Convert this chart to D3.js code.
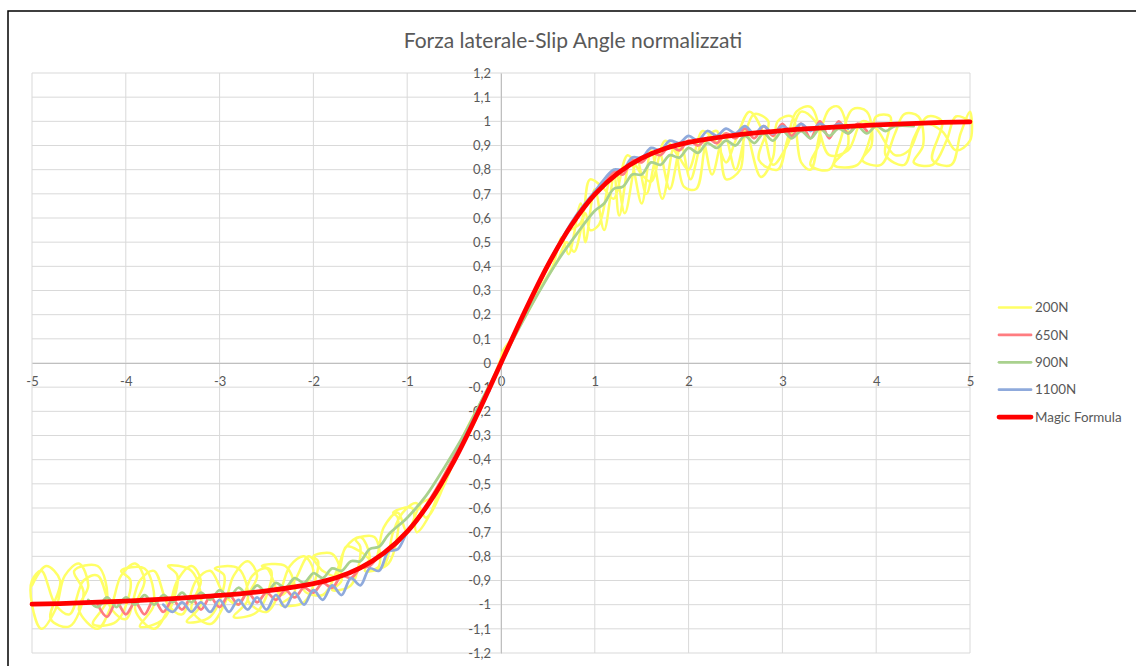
<!DOCTYPE html>
<html>
<head>
<meta charset="utf-8">
<script src="https://cdn.jsdelivr.net/npm/d3@7"></script>
<style>
  body { margin: 0; background: #fff; }
  text { font-family: Lato, "Noto Sans", sans-serif; fill: #595959; }
</style>
</head>
<body>
<div id="chart"></div>
<script>
var chartTitle = "Forza laterale-Slip Angle normalizzati";
var xTicks = [-5, -4, -3, -2, -1, 0, 1, 2, 3, 4, 5];
var yTicks = [-1.2, -1.1, -1, -0.9, -0.8, -0.7, -0.6, -0.5, -0.4, -0.3, -0.2, -0.1, 0,
              0.1, 0.2, 0.3, 0.4, 0.5, 0.6, 0.7, 0.8, 0.9, 1, 1.1, 1.2];
var seriesNames = ["200N", "650N", "900N", "1100N", "Magic Formula"];

// values, [slip angle, normalised force]
var s200 = [[-5.0,-0.92],[-4.85,-0.84],[-4.7,-0.9],[-4.8,-1.06],[-4.6,-1.09],[-4.45,-0.95],[-4.55,-0.86],[-4.3,-0.84],
  [-4.2,-0.98],[-4.35,-1.08],[-4.1,-1.07],[-3.95,-0.9],[-4.05,-0.86],[-3.8,-0.85],[-3.7,-1.0],[-3.85,-1.09],[-3.6,-1.06],
  [-3.45,-0.88],[-3.55,-0.84],[-3.3,-0.86],[-3.2,-1.0],[-3.35,-1.07],[-3.1,-1.05],[-2.95,-0.88],[-3.05,-0.85],[-2.8,-0.85],
  [-2.7,-0.98],[-2.85,-1.05],[-2.6,-1.03],[-2.45,-0.86],[-2.55,-0.84],[-2.3,-0.84],[-2.2,-0.95],[-2.35,-1.0],[-2.1,-0.99],
  [-1.95,-0.82],[-2.0,-0.8],[-1.8,-0.79],[-1.7,-0.9],[-1.8,-0.94],[-1.6,-0.92],[-1.5,-0.76],[-1.55,-0.73],[-1.35,-0.72],
  [-1.3,-0.84],[-1.4,-0.86],[-1.2,-0.83],[-1.1,-0.64],[-1.15,-0.62],[-0.95,-0.6],[-0.9,-0.7],[-0.75,-0.62],[-0.6,-0.46],
  [-0.45,-0.36],[-0.3,-0.24],[-0.15,-0.12],[0,0.02],[0.02,0.05],[0.15,0.12],[0.3,0.22],[0.45,0.33],[0.6,0.42],[0.7,0.5],
  [0.78,0.46],[0.9,0.62],[0.95,0.55],[1.04,0.57],[1.15,0.75],[1.2,0.8],[1.26,0.61],[1.38,0.84],[1.5,0.66],[1.6,0.88],
  [1.72,0.68],[1.85,0.9],[1.95,0.73],[2.08,0.72],[2.2,0.93],[2.3,0.96],[2.4,0.76],[2.55,0.8],[2.6,0.98],[2.77,0.77],
  [2.9,0.85],[2.95,1.0],[3.1,1.02],[3.2,0.83],[3.3,0.8],[3.4,0.95],[3.5,1.05],[3.6,1.06],[3.7,0.9],[3.55,0.82],[3.8,0.82],
  [3.95,0.95],[4.0,1.02],[4.15,1.02],[4.1,0.86],[4.3,0.82],[4.4,0.93],[4.55,1.02],[4.7,1.0],[4.6,0.84],[4.8,0.82],
  [4.9,0.95],[5.0,1.04],
  [5.0,0.92],[4.85,0.88],[4.7,0.96],[4.5,0.99],[4.35,0.88],[4.2,0.86],[4.0,0.97],[3.85,1.0],[3.7,0.88],[3.5,0.86],
  [3.35,1.0],[3.2,1.04],[3.05,0.9],[2.9,0.82],[2.8,0.95],[2.65,1.04],[2.5,0.92],[2.4,0.83],[2.3,0.91],[2.15,0.96],
  [2.0,0.8],[1.9,0.85],[1.75,0.92],[1.6,0.75],[1.5,0.78],[1.35,0.86],[1.2,0.68],[1.1,0.72],[0.95,0.76],[0.85,0.58],
  [0.7,0.54],[0.5,0.4],[0.3,0.24],[0,0.0],[-0.3,-0.26],[-0.5,-0.4],[-0.7,-0.55],[-0.85,-0.58],[-1.0,-0.7],[-1.1,-0.62],
  [-1.25,-0.68],[-1.35,-0.82],[-1.5,-0.78],[-1.65,-0.76],[-1.75,-0.88],[-1.9,-0.86],[-2.05,-0.8],[-2.2,-0.9],[-2.35,-0.96],
  [-2.5,-0.85],[-2.65,-0.88],[-2.8,-1.0],[-2.95,-0.96],[-3.1,-0.86],[-3.25,-0.9],[-3.4,-1.04],[-3.55,-1.0],[-3.7,-0.86],
  [-3.85,-0.9],[-4.0,-1.06],[-4.15,-1.02],[-4.3,-0.88],[-4.45,-0.9],[-4.6,-1.04],[-4.75,-1.0],[-4.9,-0.86],[-5.0,-0.9],
  [-5.0,-1.0],[-4.9,-1.1],[-4.75,-1.02],[-4.65,-0.88],[-4.5,-0.83],[-4.4,-0.92],[-4.5,-1.02],[-4.3,-1.1],[-4.15,-1.0],
  [-4.05,-0.88],[-3.9,-0.83],[-3.8,-0.9],[-3.9,-1.02],[-3.7,-1.1],[-3.55,-1.02],[-3.45,-0.9],[-3.3,-0.84],[-3.2,-0.9],
  [-3.3,-1.02],[-3.1,-1.08],[-2.95,-1.0],[-2.85,-0.88],[-2.7,-0.82],[-2.6,-0.88],[-2.7,-0.98],[-2.5,-1.03],[-2.35,-0.94],
  [-2.25,-0.84],[-2.1,-0.8],[-2.0,-0.86],[-2.1,-0.94],[-1.9,-0.96],[-1.75,-0.86],[-1.65,-0.76],[-1.5,-0.72],[-1.4,-0.8],
  [-1.45,-0.86],[-1.25,-0.84],[-1.15,-0.7],[-1.05,-0.62],[-0.9,-0.58],[-0.8,-0.64],[-0.6,-0.5],[-0.4,-0.3],[-0.2,-0.15],
  [0,0],[0.2,0.16],[0.4,0.3],[0.55,0.4],[0.65,0.52],[0.72,0.45],[0.85,0.66],[0.9,0.5],[1.0,0.72],[1.1,0.55],[1.22,0.8],
  [1.32,0.62],[1.45,0.84],[1.55,0.7],[1.68,0.88],[1.8,0.72],[1.92,0.9],[2.02,0.76],[2.15,0.92],[2.25,0.78],[2.38,0.95],
  [2.5,0.8],[2.62,0.97],[2.7,1.03],[2.85,1.0],[2.75,0.84],[2.95,0.8],[3.05,0.92],[3.15,1.04],[3.3,1.06],[3.4,0.92],
  [3.3,0.82],[3.5,0.8],[3.6,0.9],[3.75,1.05],[3.9,1.04],[3.95,0.9],[3.85,0.84],[4.05,0.82],[4.2,0.95],[4.3,1.03],
  [4.45,1.02],[4.5,0.9],[4.4,0.83],[4.6,0.82],[4.75,0.92],[4.85,1.02],[5.0,1.0]];

var s650 = [[-4.3,-1.0],[-4.2,-1.05],[-4.1,-0.99],[-4.0,-1.04],[-3.9,-0.99],[-3.8,-1.04],[-3.7,-0.98],[-3.6,-1.03],
  [-3.5,-0.98],[-3.4,-1.02],[-3.3,-0.97],[-3.2,-1.02],[-3.1,-0.97],[-3.0,-1.01],[-2.9,-0.96],[-2.8,-1.0],[-2.7,-0.95],
  [-2.6,-0.99],[-2.5,-0.95],[-2.4,-0.98],[-2.3,-0.94],[-2.2,-0.97],[-2.1,-0.93],[-2.0,-0.95],[-1.9,-0.91],[-1.8,-0.93],
  [-1.7,-0.88],[-1.6,-0.89],[-1.5,-0.85],[-1.4,-0.84],[-1.3,-0.8],[-1.2,-0.78],[-1.0,-0.7],[-0.8,-0.59],[-0.6,-0.46],
  [-0.4,-0.31],[-0.2,-0.16],[0,0],[0.2,0.16],[0.4,0.32],[0.6,0.47],[0.8,0.6],[1.0,0.7],[1.1,0.74],[1.2,0.79],[1.3,0.78],
  [1.4,0.84],[1.5,0.83],[1.6,0.87],[1.7,0.86],[1.8,0.9],[1.9,0.88],[2.0,0.92],[2.1,0.9],[2.2,0.93],[2.3,0.91],[2.4,0.95],
  [2.5,0.93],[2.6,0.97],[2.7,0.93],[2.8,0.98],[2.9,0.94],[3.0,0.99],[3.1,0.94],[3.2,0.99],[3.3,0.93],[3.4,1.0],[3.5,0.93],
  [3.6,1.0],[3.7,0.95],[3.8,0.99],[3.9,0.96]];

var s900 = [[-4.4,-0.98],[-4.3,-1.01],[-4.2,-0.97],[-4.1,-1.01],[-4.0,-0.97],[-3.9,-1.0],[-3.8,-0.96],[-3.7,-1.0],
  [-3.6,-0.96],[-3.5,-0.99],[-3.4,-0.95],[-3.3,-0.99],[-3.2,-0.95],[-3.1,-0.98],[-3.0,-0.94],[-2.9,-0.97],[-2.8,-0.93],
  [-2.7,-0.96],[-2.6,-0.92],[-2.5,-0.95],[-2.4,-0.91],[-2.3,-0.93],[-2.2,-0.89],[-2.1,-0.91],[-2.0,-0.87],[-1.9,-0.89],
  [-1.8,-0.85],[-1.7,-0.86],[-1.6,-0.82],[-1.5,-0.82],[-1.4,-0.77],[-1.3,-0.76],[-1.2,-0.71],[-1.0,-0.64],[-0.8,-0.55],
  [-0.6,-0.43],[-0.4,-0.3],[-0.2,-0.15],[0,0],[0.2,0.15],[0.4,0.29],[0.6,0.42],[0.8,0.53],[1.0,0.63],[1.1,0.66],
  [1.2,0.72],[1.3,0.73],[1.4,0.78],[1.5,0.78],[1.6,0.83],[1.7,0.82],[1.8,0.86],[1.9,0.85],[2.0,0.89],[2.1,0.87],
  [2.2,0.91],[2.3,0.89],[2.4,0.92],[2.5,0.9],[2.6,0.94],[2.7,0.91],[2.8,0.95],[2.9,0.92],[3.0,0.96],[3.1,0.93],
  [3.2,0.96],[3.3,0.93],[3.4,0.97],[3.5,0.94],[3.6,0.97],[3.7,0.95],[3.8,0.98],[3.9,0.95],[4.0,0.98],[4.1,0.96],
  [4.2,0.98],[4.4,0.98]];

var s1100 = [[-3.6,-1.0],[-3.5,-1.03],[-3.4,-0.99],[-3.3,-1.03],[-3.2,-0.99],[-3.1,-1.03],[-3.0,-0.98],[-2.9,-1.03],
  [-2.8,-0.98],[-2.7,-1.02],[-2.6,-0.97],[-2.5,-1.02],[-2.4,-0.96],[-2.3,-1.01],[-2.2,-0.95],[-2.1,-1.0],[-2.0,-0.94],
  [-1.9,-0.98],[-1.8,-0.92],[-1.7,-0.96],[-1.6,-0.89],[-1.5,-0.92],[-1.4,-0.85],[-1.3,-0.86],[-1.2,-0.78],[-1.1,-0.77],
  [-1.0,-0.7],[-0.8,-0.6],[-0.6,-0.47],[-0.4,-0.32],[-0.2,-0.16],[0,0],[0.2,0.17],[0.4,0.33],[0.6,0.48],[0.8,0.61],
  [1.0,0.71],[1.1,0.76],[1.2,0.8],[1.3,0.8],[1.4,0.85],[1.5,0.85],[1.6,0.89],[1.7,0.88],[1.8,0.92],[1.9,0.91],[2.0,0.94],
  [2.1,0.92],[2.2,0.96],[2.3,0.94],[2.4,0.97],[2.5,0.95],[2.6,0.98],[2.7,0.95],[2.8,0.98],[2.9,0.95],[3.0,0.98],
  [3.1,0.96],[3.2,0.99],[3.3,0.96],[3.4,0.99],[3.5,0.97],[3.6,0.99],[3.7,0.97]];

var magic = [[-5,-0.998],[-4.5,-0.993],[-4,-0.985],[-3.5,-0.975],[-3,-0.962],[-2.5,-0.943],[-2,-0.913],[-1.75,-0.888],
  [-1.5,-0.848],[-1.25,-0.787],[-1,-0.698],[-0.75,-0.57],[-0.5,-0.405],[-0.25,-0.21],[0,0],[0.25,0.21],[0.5,0.405],
  [0.75,0.57],[1,0.698],[1.25,0.787],[1.5,0.848],[1.75,0.888],[2,0.913],[2.5,0.943],[3,0.962],[3.5,0.975],[4,0.985],
  [4.5,0.993],[5,0.998]];

var colors = ["#ffff66", "#ff7c80", "#a9d18e", "#8faadc", "#ff0000"];
var widths = [2.5, 2.75, 2.75, 2.75, 4.75];
var allSeries = [s200, s650, s900, s1100, magic];

var W = 1136, H = 666;
var svg = d3.select("#chart").append("svg")
  .attr("width", W).attr("height", H);

svg.append("rect")
  .attr("x", 8).attr("y", 11).attr("width", W).attr("height", H)
  .attr("fill", "#fff").attr("stroke", "#000").attr("stroke-width", 1.5);

var x = d3.scaleLinear().domain([-5, 5]).range([32, 970]);
var y = d3.scaleLinear().domain([-1.2, 1.2]).range([653, 73]);

// gridlines
svg.append("g").selectAll("line").data(yTicks).enter().append("line")
  .attr("x1", x(-5)).attr("x2", x(5))
  .attr("y1", d => y(d)).attr("y2", d => y(d))
  .attr("stroke", "#d9d9d9").attr("stroke-width", 1);
svg.append("g").selectAll("line").data(xTicks).enter().append("line")
  .attr("x1", d => x(d)).attr("x2", d => x(d))
  .attr("y1", y(1.2)).attr("y2", y(-1.2))
  .attr("stroke", "#d9d9d9").attr("stroke-width", 1);

var fmt = d => String(+d.toFixed(1)).replace(".", ",");

// x axis along y = 0
var xAxis = svg.append("g")
  .attr("transform", "translate(0," + y(0) + ")")
  .call(d3.axisBottom(x).tickValues(xTicks).tickSize(0).tickPadding(14).tickFormat(fmt));
xAxis.select(".domain").attr("stroke", "#bfbfbf");
xAxis.selectAll("text").style("font-size", "13px").attr("fill", "#595959")
  .style("font-family", "Lato, 'Noto Sans', sans-serif");

// y axis along x = 0
var yAxis = svg.append("g")
  .attr("transform", "translate(" + x(0) + ",0)")
  .call(d3.axisLeft(y).tickValues(yTicks).tickSize(0).tickPadding(10).tickFormat(fmt));
yAxis.select(".domain").attr("stroke", "#bfbfbf");
yAxis.selectAll("text").style("font-size", "13px").attr("fill", "#595959")
  .style("font-family", "Lato, 'Noto Sans', sans-serif");

// series
var line = d3.line()
  .x(d => x(d[0])).y(d => y(d[1]))
  .curve(d3.curveCatmullRom.alpha(0.5));

svg.append("g").selectAll("path").data(allSeries).enter().append("path")
  .attr("d", line)
  .attr("fill", "none")
  .attr("stroke", (d, i) => colors[i])
  .attr("stroke-width", (d, i) => widths[i])
  .attr("stroke-linejoin", "round")
  .attr("stroke-linecap", "round");

// title
svg.append("text")
  .attr("x", 573).attr("y", 48)
  .attr("text-anchor", "middle")
  .style("font-size", "21px")
  .text(chartTitle);

// legend
var legend = svg.append("g").selectAll("g").data(seriesNames).enter().append("g")
  .attr("transform", (d, i) => "translate(999," + (307.5 + i * 27.4) + ")");
legend.append("line")
  .attr("x1", 0).attr("x2", 32)
  .attr("stroke", (d, i) => colors[i])
  .attr("stroke-width", (d, i) => widths[i])
  .attr("stroke-linecap", "round");
legend.append("text")
  .attr("x", 36).attr("dy", "0.35em")
  .style("font-size", "13.4px")
  .text(d => d);
</script>
</body>
</html>
